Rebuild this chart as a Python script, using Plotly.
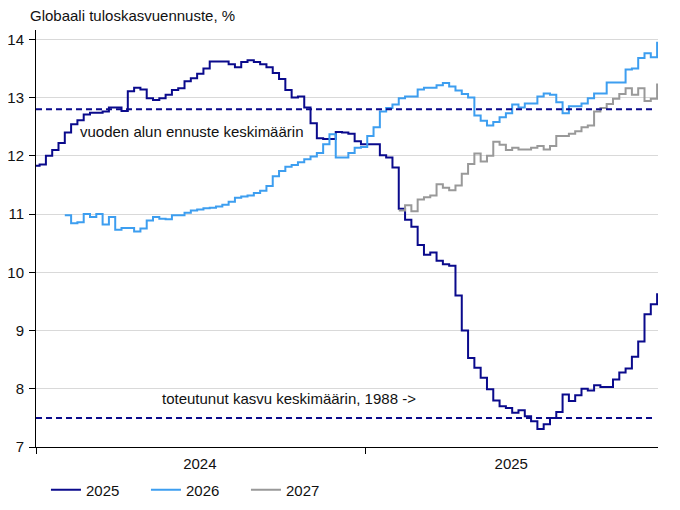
import plotly.graph_objs as go
import pandas as pd

# viikkodata (perjantait), arvot luettu kuvasta
ennuste_2025 = [
    11.83, 11.85, 12.0, 12.1, 12.22, 12.4, 12.54, 12.61, 12.71, 12.74,
    12.74, 12.76, 12.83, 12.83, 12.77, 13.11, 13.17, 13.14, 12.99, 12.96,
    12.99, 13.05, 13.13, 13.16, 13.28, 13.33, 13.41, 13.5, 13.62, 13.62,
    13.62, 13.57, 13.52, 13.61, 13.64, 13.61, 13.57, 13.52, 13.42, 13.32,
    13.13, 13.0, 13.02, 12.83, 12.56, 12.3, 12.29, 12.29, 12.41, 12.4,
    12.38, 12.25, 12.2, 12.2, 12.2, 12.01, 11.97, 11.8, 11.09, 10.9,
    10.78, 10.47, 10.3, 10.34, 10.2, 10.14, 10.11, 9.6, 9.0, 8.53,
    8.36, 8.19, 7.99, 7.8, 7.7, 7.67, 7.59, 7.63, 7.53, 7.44,
    7.31, 7.39, 7.5, 7.6, 7.9, 7.79, 7.89, 8.0, 7.97, 8.06,
    8.03, 8.03, 8.16, 8.28, 8.35, 8.55, 8.81, 9.28, 9.45, 9.64,
]
ennuste_2026 = [
    10.98, 10.84, 10.86, 11.0, 10.95,
    11.0, 10.82, 10.95, 10.73, 10.76, 10.76, 10.7, 10.75, 10.89, 10.95,
    10.92, 10.91, 10.98, 10.98, 11.02, 11.06, 11.08, 11.1, 11.11, 11.13,
    11.16, 11.21, 11.28, 11.3, 11.32, 11.36, 11.4, 11.48, 11.65, 11.74,
    11.81, 11.84, 11.89, 11.94, 11.99, 12.05, 12.2, 12.37, 11.97, 11.97,
    12.05, 12.14, 12.15, 12.34, 12.49, 12.76, 12.82, 12.88, 12.99, 13.02,
    13.02, 13.14, 13.17, 13.17, 13.21, 13.25, 13.19, 13.12, 13.06, 13.0,
    12.69, 12.6, 12.52, 12.58, 12.66, 12.73, 12.88, 12.83, 12.9, 12.9,
    13.02, 13.07, 13.05, 12.92, 12.73, 12.85, 12.85, 12.9, 12.99, 13.07,
    13.07, 13.26, 13.26, 13.26, 13.48, 13.5, 13.68, 13.76, 13.69, 13.96,
]
ennuste_2027 = [
    11.06, 11.15,
    11.05, 11.25, 11.29, 11.32, 11.51, 11.45, 11.41, 11.49, 11.69, 11.86,
    12.04, 11.9, 12.0, 12.24, 12.19, 12.1, 12.14, 12.11, 12.11, 12.14,
    12.17, 12.11, 12.17, 12.34, 12.34, 12.38, 12.42, 12.49, 12.52, 12.76,
    12.82, 12.89, 12.98, 13.06, 13.16, 13.05, 13.16, 12.94, 12.98, 13.24,
]

viimeinen = "2025-11-21"
paivat_2025 = pd.date_range(end=viimeinen, periods=len(ennuste_2025), freq="7D")
paivat_2026 = pd.date_range(end=viimeinen, periods=len(ennuste_2026), freq="7D")
paivat_2027 = pd.date_range(end=viimeinen, periods=len(ennuste_2027), freq="7D")

alun_ennuste = 12.8
toteutunut = 7.5

vuodet = ["2024", "2025"]
vuosi_alut = ["2024-01-01", "2025-01-01"]
x_loppu = "2025-11-22"

navy = "#0a0a8c"
vaalea = "#3d9ef0"
harmaa = "#999999"
fontti = "Liberation Sans, Arial, sans-serif"
koko = 15

# sivun body-marginaali (8px) vähennetty koosta ja reunoista
W, H = 672, 502

fig = go.Figure()
for nimi, x, y, vari in [("2025", paivat_2025, ennuste_2025, navy),
                         ("2026", paivat_2026, ennuste_2026, vaalea),
                         ("2027", paivat_2027, ennuste_2027, harmaa)]:
    fig.add_trace(go.Scatter(x=x, y=y, name=nimi, mode="lines",
                             line=dict(color=vari, width=2, shape="hv")))

for arvo in [alun_ennuste, toteutunut]:
    fig.add_shape(type="line", xref="paper", yref="y", x0=0, x1=0.995,
                  y0=arvo, y1=arvo, line=dict(color=navy, width=2, dash="6px,4px"))

fig.add_annotation(x="2024-02-17", y=12.41, text="vuoden alun ennuste keskimäärin",
                   xanchor="left", yanchor="middle", showarrow=False,
                   font=dict(size=koko, color="#111111"))
fig.add_annotation(x="2024-05-18", y=7.83, text="toteutunut kasvu keskimäärin, 1988 ->",
                   xanchor="left", yanchor="middle", showarrow=False,
                   font=dict(size=koko, color="#111111"))

# vuosien nimet keskelle jaksoa
keskikohdat = ["2024-07-01", "2025-06-12"]

fig.update_layout(
    width=W, height=H,
    margin=dict(l=28, r=22, t=22, b=63),
    paper_bgcolor="white", plot_bgcolor="white",
    font=dict(family=fontti, size=koko, color="#111111"),
    title=dict(text="Globaali tuloskasvuennuste, %", x=22/W, xanchor="left",
               xref="container", y=1-2.5/H, yanchor="top", yref="container",
               font=dict(size=koko, color="#111111")),
    showlegend=True,
    legend=dict(orientation="h", x=0.016, xanchor="left",
                yref="container", y=1-482/H, yanchor="middle",
                font=dict(size=koko), entrywidth=55, entrywidthmode="pixels",
                bgcolor="rgba(0,0,0,0)"),
    xaxis=dict(range=["2024-01-01", x_loppu], type="date", automargin=False,
               tickmode="array", tickvals=keskikohdat, ticktext=vuodet, ticks="",
               ticklabelstandoff=3,
               showgrid=False, showline=True, linecolor="black", linewidth=1,
               zeroline=False,
               minor=dict(tickmode="array", tickvals=vuosi_alut, ticks="outside",
                          ticklen=6, tickcolor="black", tickwidth=1, showgrid=False)),
    yaxis=dict(range=[7, 14.16], tickmode="array", tickvals=list(range(7, 15)),
               ticks="outside", ticklen=6, tickcolor="black", automargin=False,
               ticklabelstandoff=2,
               showline=True, linecolor="black", linewidth=1,
               showgrid=True, gridcolor="#d9d9d9", gridwidth=1, zeroline=False),
)

fig.write_html("out.html")
